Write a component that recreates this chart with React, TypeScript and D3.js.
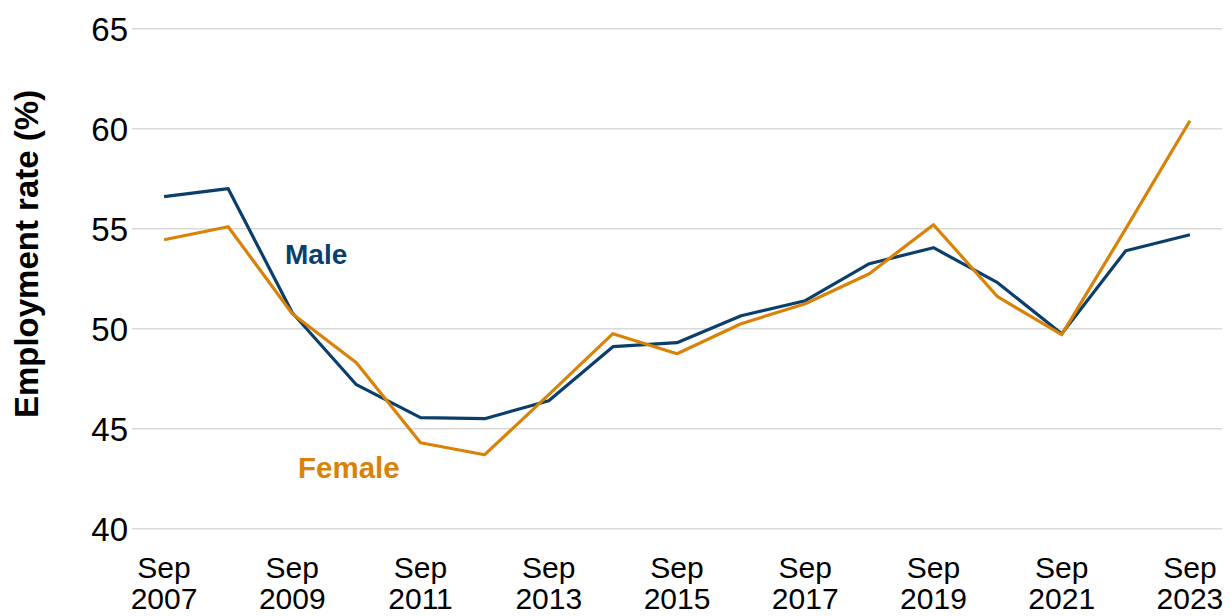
import React from 'react'
import * as d3 from 'd3'

const years = [2007, 2008, 2009, 2010, 2011, 2012, 2013, 2014, 2015, 2016, 2017, 2018, 2019, 2020, 2021, 2022, 2023]
const male = [56.6, 57.0, 50.8, 47.2, 45.55, 45.5, 46.4, 49.1, 49.3, 50.65, 51.4, 53.25, 54.05, 52.3, 49.75, 53.9, 54.7]
const female = [54.45, 55.1, 50.75, 48.3, 44.3, 43.7, 46.7, 49.75, 48.75, 50.25, 51.25, 52.75, 55.2, 51.6, 49.7, 55.0, 60.4]
const yTicks = [40, 45, 50, 55, 60, 65]
const labelYears = [2007, 2009, 2011, 2013, 2015, 2017, 2019, 2021, 2023]

const MALE_CLR = '#0b3f6b'
const FEMALE_CLR = '#d98208'
const FONT = 'Liberation Sans, Arial, sans-serif'

export default function App() {
  const width = 1230
  const height = 616

  const x = d3.scalePoint<number>().domain(years).range([132, 1222]).padding(0.5)
  const y = d3.scaleLinear().domain([40, 65]).range([528.7, 28.7])

  const line = (vals: number[]) =>
    d3.line<number>()
      .x((_, i) => x(years[i]) as number)
      .y(d => y(d))(vals) as string

  return (
    <svg width={width} height={height} style={{position: 'absolute', left: 0, top: 0, background: '#fff'}}>
      {/* gridlines */}
      {yTicks.map(t => (
        <g key={t}>
          <line x1={132} x2={1222} y1={y(t)} y2={y(t)} stroke="#d9d9d9" strokeWidth={1.5} />
          <text x={128} y={y(t)} dy="0.36em" textAnchor="end" fontFamily={FONT} fontSize={33} fill="#000">{t}</text>
        </g>
      ))}

      {/* x labels */}
      {labelYears.map(yr => (
        <text key={yr} x={x(yr)} textAnchor="middle" fontFamily={FONT} fontSize={30} fill="#000">
          <tspan x={x(yr)} y={578}>Sep</tspan>
          <tspan x={x(yr)} y={609}>{yr}</tspan>
        </text>
      ))}

      {/* lines */}
      <path d={line(male)} fill="none" stroke={MALE_CLR} strokeWidth={3.2} strokeLinejoin="round" />
      <path d={line(female)} fill="none" stroke={FEMALE_CLR} strokeWidth={3.2} strokeLinejoin="round" />

      {/* series labels */}
      <text x={285} y={264} fontFamily={FONT} fontSize={28} fontWeight="bold" fill={MALE_CLR}>Male</text>
      <text x={298} y={478} fontFamily={FONT} fontSize={29.5} fontWeight="bold" fill={FEMALE_CLR}>Female</text>

      {/* y title */}
      <text transform="translate(38,254) rotate(-90)" textAnchor="middle" fontFamily={FONT} fontSize={33} fontWeight="bold" fill="#000">
        Employment rate (%)
      </text>
    </svg>
  )
}
